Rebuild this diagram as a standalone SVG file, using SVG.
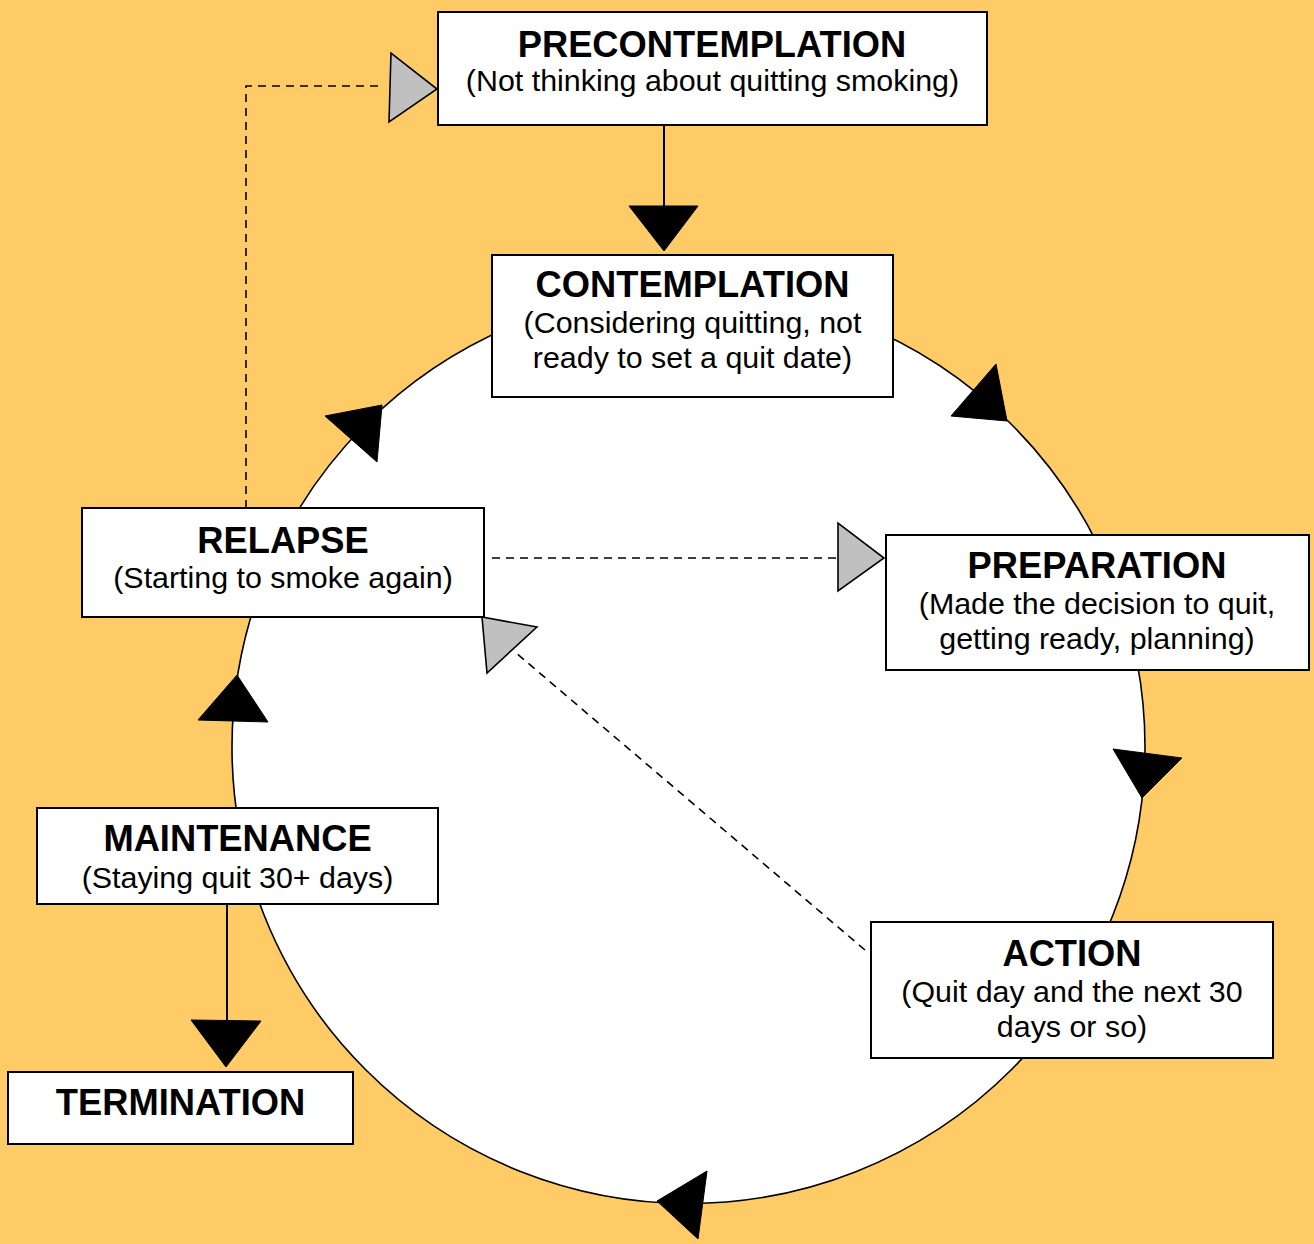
<svg xmlns="http://www.w3.org/2000/svg" width="1314" height="1244" viewBox="0 0 1314 1244">
<style>
.box{fill:#fff;stroke:#000;stroke-width:2}
.t{font-family:"Liberation Sans",Arial,sans-serif;font-weight:bold;font-size:36.3px;text-anchor:middle;fill:#000}
.s{font-family:"Liberation Sans",Arial,sans-serif;font-size:30.4px;text-anchor:middle;fill:#000}
.ln{stroke:#000;stroke-width:2;fill:none}
.dash{stroke:#000;stroke-width:1.6;fill:none;stroke-dasharray:8,6}
.blk{fill:#000;stroke:#000;stroke-width:1}
.gry{fill:#c0c0c0;stroke:#000;stroke-width:1.6;stroke-linejoin:miter}
</style>
<rect width="1314" height="1244" fill="#FECB66"/>
<circle cx="688.5" cy="747" r="456.5" fill="#fff" stroke="#000" stroke-width="1.6"/>
<g id="connectors">
<line class="ln" x1="664" y1="125" x2="664" y2="206"/>
<polygon class="blk" points="629,206 698,206 664,251"/>
<polygon class="blk" points="325,416 377,462 382,405"/>
<polygon class="blk" points="996,364 951,416 1007,421"/>
<polygon class="blk" points="1113,749 1182,758 1142,798"/>
<polygon class="blk" points="707,1171 698,1239 657,1201"/>
<polygon class="blk" points="198,720 268,722 237,675"/>
<line class="ln" x1="227" y1="904" x2="227" y2="1020"/>
<polygon class="blk" points="191,1020 261,1021 226,1067"/>
<polyline class="dash" points="246,508 246,86 380,86"/>
<polygon class="gry" points="391,53 389,122 437,89"/>
<line class="dash" x1="492" y1="558" x2="838" y2="558"/>
<polygon class="gry" points="838,523 838,591 884,558"/>
<line class="dash" x1="865" y1="950" x2="515" y2="652"/>
<polygon class="gry" points="537,627 487,673 482,617"/>
</g>
<g id="precontemplation">
<rect class="box" x="438" y="12" width="549" height="113"/>
<text class="t" x="712" y="57">PRECONTEMPLATION</text>
<text class="s" x="712.5" y="91">(Not thinking about quitting smoking)</text>
</g>
<g id="contemplation">
<rect class="box" x="492" y="255" width="401" height="142"/>
<text class="t" x="692.5" y="297">CONTEMPLATION</text>
<text class="s" x="692.5" y="333">(Considering quitting, not</text>
<text class="s" x="692.5" y="368">ready to set a quit date)</text>
</g>
<g id="relapse">
<rect class="box" x="82" y="508" width="402" height="109"/>
<text class="t" x="283" y="553">RELAPSE</text>
<text class="s" x="283" y="588">(Starting to smoke again)</text>
</g>
<g id="preparation">
<rect class="box" x="886" y="535" width="423" height="135"/>
<text class="t" x="1097" y="578">PREPARATION</text>
<text class="s" x="1097" y="614">(Made the decision to quit,</text>
<text class="s" x="1097" y="649">getting ready, planning)</text>
</g>
<g id="maintenance">
<rect class="box" x="37" y="808" width="401" height="96"/>
<text class="t" x="237.5" y="851">MAINTENANCE</text>
<text class="s" x="237.5" y="888">(Staying quit 30+ days)</text>
</g>
<g id="action">
<rect class="box" x="871" y="922" width="402" height="136"/>
<text class="t" x="1072" y="966">ACTION</text>
<text class="s" x="1072" y="1002">(Quit day and the next 30</text>
<text class="s" x="1072" y="1037">days or so)</text>
</g>
<g id="termination">
<rect class="box" x="8" y="1072" width="345" height="72"/>
<text class="t" x="180.5" y="1115">TERMINATION</text>
</g>
</svg>
